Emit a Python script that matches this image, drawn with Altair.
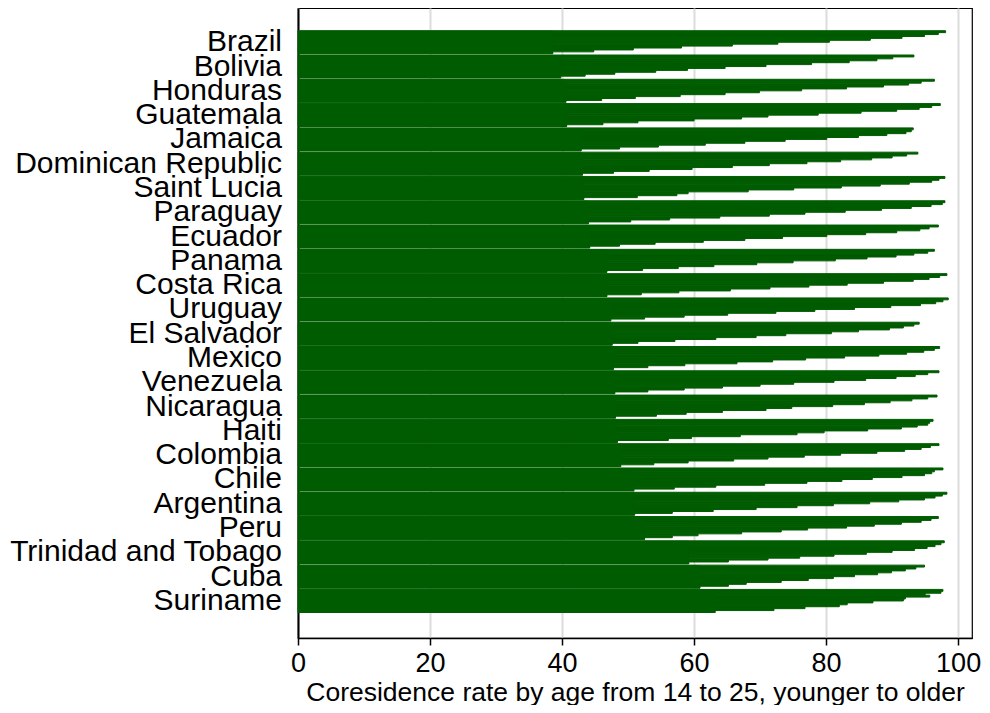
import altair as alt
import pandas as pd

GREEN = "#005c00"
FONT = "Liberation Sans"

countries = [
    "Brazil", "Bolivia", "Honduras", "Guatemala", "Jamaica", "Dominican Republic",
    "Saint Lucia", "Paraguay", "Ecuador", "Panama", "Costa Rica", "Uruguay",
    "El Salvador", "Mexico", "Venezuela", "Nicaragua", "Haiti", "Colombia",
    "Chile", "Argentina", "Peru", "Trinidad and Tobago", "Cuba", "Suriname",
]
ages = list(range(14, 26))

brazil = [98.1, 97.0, 94.9, 91.5, 86.7, 80.5, 72.7, 65.8, 58.1, 50.8, 44.8, 38.6]
bolivia = [93.3, 90.1, 87.7, 83.5, 77.8, 70.9, 64.7, 59.0, 54.2, 48.0, 43.5, 39.8]
honduras = [96.4, 94.4, 92.5, 88.7, 83.1, 76.3, 69.9, 64.7, 57.9, 51.1, 46.0, 40.6]
guatemala = [97.3, 96.0, 94.1, 90.7, 85.3, 78.8, 71.2, 67.2, 60.0, 51.5, 46.2, 40.7]
jamaica = [93.2, 92.9, 92.1, 89.2, 84.9, 80.1, 73.8, 67.7, 61.7, 54.6, 48.7, 42.9]
dominican_republic = [93.9, 92.2, 90.0, 86.9, 82.2, 77.1, 71.4, 65.8, 59.7, 53.2, 47.8, 43.1]
saint_lucia = [98.0, 97.1, 96.0, 92.6, 88.2, 82.3, 75.1, 68.2, 59.1, 57.4, 51.4, 43.3]
paraguay = [98.0, 97.6, 95.9, 92.9, 88.4, 82.9, 76.8, 71.4, 63.9, 56.3, 50.4, 44.0]
ecuador = [97.0, 95.6, 94.2, 90.7, 86.0, 80.1, 73.4, 67.7, 61.4, 54.1, 48.7, 44.2]
panama = [96.4, 95.4, 93.3, 90.6, 86.2, 81.4, 75.0, 69.5, 63.0, 57.6, 52.2, 46.8]
costa_rica = [98.3, 97.2, 95.6, 93.2, 88.7, 83.2, 77.4, 71.5, 65.5, 57.7, 52.0, 46.8]
uruguay = [98.5, 97.7, 96.6, 94.3, 89.8, 84.3, 78.3, 72.4, 65.1, 58.5, 52.5, 47.4]
el_salvador = [94.1, 93.3, 91.7, 89.6, 84.9, 80.8, 73.9, 69.4, 63.3, 57.1, 51.5, 47.6]
mexico = [97.2, 96.4, 94.8, 92.2, 88.0, 82.8, 76.9, 71.9, 66.5, 58.6, 53.0, 47.8]
venezuela = [97.1, 95.4, 93.5, 90.6, 86.0, 81.2, 75.1, 70.0, 64.3, 58.5, 53.0, 48.0]
nicaragua = [96.8, 95.4, 93.0, 89.7, 85.8, 81.0, 74.8, 70.9, 64.3, 58.8, 54.3, 48.1]
haiti = [96.2, 95.7, 95.4, 93.8, 91.4, 86.3, 79.7, 75.6, 67.0, 59.6, 56.1, 48.4]
colombia = [97.1, 95.8, 94.4, 91.9, 87.7, 82.2, 76.7, 71.2, 66.0, 59.1, 53.9, 48.9]
chile = [97.7, 96.4, 96.0, 94.9, 91.5, 87.0, 82.4, 77.1, 70.7, 63.3, 57.0, 50.9]
argentina = [98.3, 97.6, 96.5, 94.9, 91.0, 86.6, 81.1, 75.6, 69.4, 62.9, 56.7, 51.0]
peru = [97.0, 95.9, 94.4, 91.4, 87.3, 83.1, 77.2, 73.2, 67.2, 60.6, 56.7, 52.5]
trinidad_and_tobago = [97.9, 97.4, 96.5, 95.3, 93.4, 90.0, 86.1, 81.2, 76.0, 71.2, 65.2, 59.2]
cuba = [94.9, 93.6, 92.0, 89.9, 87.8, 84.3, 81.1, 77.3, 73.2, 67.9, 65.2, 60.9]
suriname = [97.7, 97.4, 95.0, 95.7, 92.0, 91.7, 87.1, 83.2, 82.0, 76.8, 72.1, 63.2]

rates = [
    brazil, bolivia, honduras, guatemala, jamaica, dominican_republic,
    saint_lucia, paraguay, ecuador, panama, costa_rica, uruguay,
    el_salvador, mexico, venezuela, nicaragua, haiti, colombia,
    chile, argentina, peru, trinidad_and_tobago, cuba, suriname,
]

GAP = 0.05
sub = (1 - GAP) / len(ages)
rows = []
for i, (c, vals) in enumerate(zip(countries, rates)):
    for j, (a, v) in enumerate(zip(ages, vals)):
        rows.append({"country": c, "age": a, "rate": v, "zero": 0,
                     "y0": i + j * sub, "y1": i + (j + 1) * sub})
df = pd.DataFrame(rows)

# solid block per country up to its smallest rate (avoids seams inside the bar)
base = pd.DataFrame({
    "country": countries,
    "zero": [0] * len(countries),
    "rate": [min(v) for v in rates],
    "y0": [i for i in range(len(countries))],
    "y1": [i + 1 - GAP for i in range(len(countries))],
})
labels = pd.DataFrame({"country": countries,
                       "yc": [i + (1 - GAP) / 2 for i in range(len(countries))]})

xscale = alt.Scale(domain=[0, 102.1], nice=False, zero=False)
yscale = alt.Scale(domain=[-0.935, 25.0], reverse=True, nice=False, zero=False)

xaxis = alt.Axis(values=[0, 20, 40, 60, 80, 100], grid=True,
                 gridColor="#dcdcdc", gridWidth=2,
                 domainColor="black", domainWidth=1.5,
                 tickColor="black", tickSize=7, tickWidth=1.5,
                 labelFont=FONT, labelFontSize=27, labelColor="black",
                 labelPadding=5, labelFlush=False,
                 title="Coresidence rate by age from 14 to 25, younger to older",
                 titleFont=FONT, titleFontSize=26.5, titleFontWeight="normal",
                 titleColor="black", titlePadding=3)
yaxis = alt.Axis(domain=True, domainColor="black", domainWidth=2,
                 ticks=False, labels=False, grid=False, title=None)

bars = alt.Chart(df).mark_rect(color=GREEN, stroke=GREEN, strokeWidth=1).encode(
    x=alt.X("zero:Q", scale=xscale, axis=xaxis),
    x2="rate:Q",
    y=alt.Y("y0:Q", scale=yscale, axis=yaxis),
    y2="y1:Q",
)

blocks = alt.Chart(base).mark_rect(color=GREEN).encode(
    x=alt.X("zero:Q", scale=xscale),
    x2="rate:Q",
    y=alt.Y("y0:Q", scale=yscale),
    y2="y1:Q",
)

text = alt.Chart(labels).mark_text(align="right", baseline="middle", dx=-16,
                                   font=FONT, fontSize=30, color="black").encode(
    x=alt.value(0),
    y=alt.Y("yc:Q", scale=yscale),
    text="country:N",
)

chart = alt.layer(bars, blocks, text).properties(
    width=674, height=630,
    autosize=alt.AutoSizeParams(type="none"),
    padding={"left": 290, "top": 0, "right": 10, "bottom": 67},
).configure_view(stroke="black", strokeWidth=1.2)

chart.save("out.html", embed_options={"renderer": "svg", "actions": False})
